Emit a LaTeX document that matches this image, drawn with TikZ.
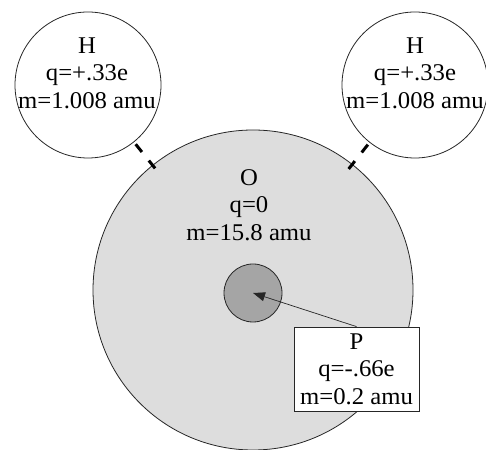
\documentclass[tikz,border=0pt]{standalone}
\usepackage{fontspec}
\setmainfont[FakeStretch=1.03]{Liberation Serif}
\usetikzlibrary{calc,arrows.meta}
\definecolor{ofill}{RGB}{221,221,221}
\definecolor{pfill}{RGB}{165,165,165}
\begin{document}
\begin{tikzpicture}[x=1pt,y=1pt,
  atom/.style={circle,draw=black!85,line width=0.8pt,inner sep=0pt},
  lbl/.style={align=center,inner sep=0pt,font=\fontsize{24}{27.5}\selectfont},
  bond/.style={line width=3pt,black,dash pattern=on 10pt off 11pt}]
\useasboundingbox (0,0) rectangle (486,449);
\node[atom,fill=ofill,minimum size=320pt] (o) at (253,159) {};
\node[atom,fill=pfill,minimum size=58pt] (p) at (253,156) {};
\node[atom,fill=white,minimum size=146pt] (h1) at (88,364) {};
\node[atom,fill=white,minimum size=146pt] (h2) at (415,364) {};
\node[lbl] (th1) at (87,376) {H\\q=+.33e\\m=1.008 amu};
\node[lbl] (th2) at (415,376) {H\\q=+.33e\\m=1.008 amu};
\node[lbl] (to) at (249,244) {O\\q=0\\m=15.8 amu};
\draw[bond] ($(h1.center)!76pt!(o.center)$) -- ($(h1.center)!107pt!(o.center)$);
\draw[bond] ($(h2.center)!76pt!(o.center)$) -- ($(h2.center)!107pt!(o.center)$);
\node[lbl,draw=black!85,line width=0.8pt,fill=white,minimum width=125pt,minimum height=84pt] (box) at (356.5,80) {P\\q=-.66e\\m=0.2 amu};
\draw[line width=0.7pt,black!85,-{Triangle[length=12pt,width=9pt]}] (box.north) -- (p.center);
\end{tikzpicture}
\end{document}
